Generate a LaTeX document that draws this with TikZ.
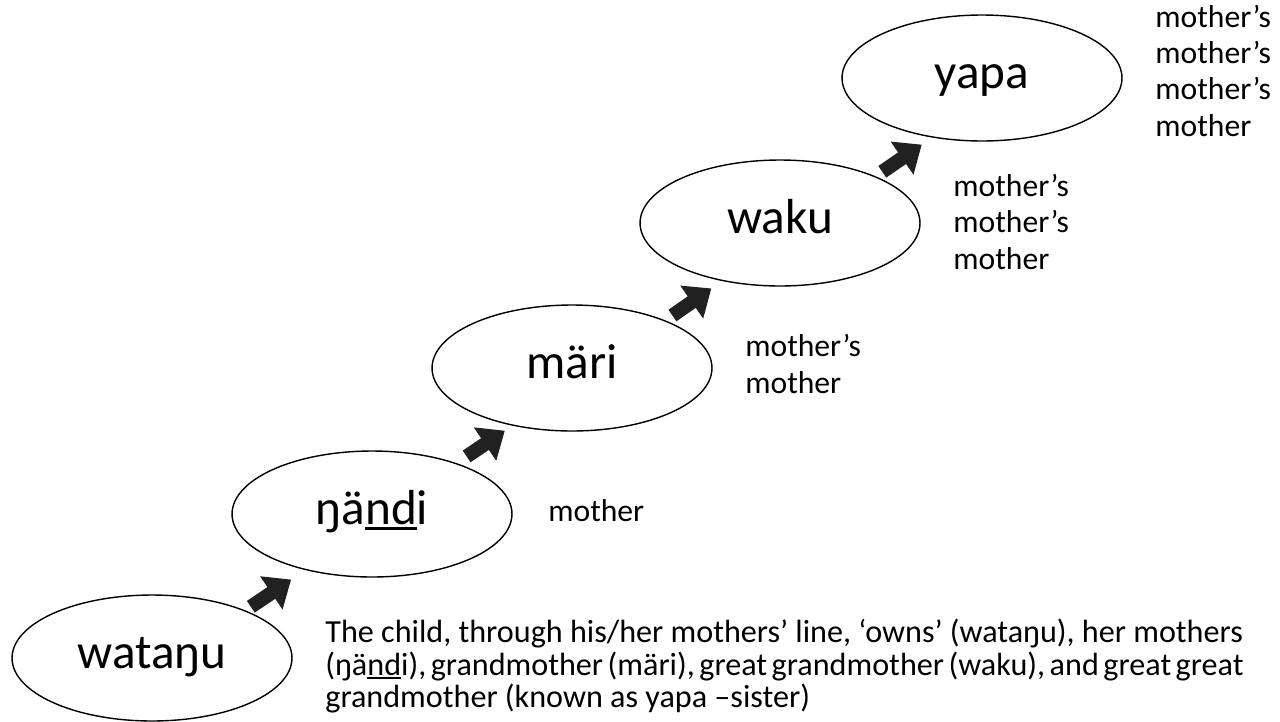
\documentclass[tikz,border=0pt]{standalone}
\usepackage{fontspec}
\setmainfont{Carlito}
\usetikzlibrary{shapes.geometric,arrows.meta}
\newcommand{\undl}[1]{\setbox0\hbox{#1}\rlap{\rule[-0.13em]{\wd0}{0.07em}}\box0}
\begin{document}
\begin{tikzpicture}[x=0.02cm,y=-0.02cm,
  gen/.style={draw,ellipse,line width=0.8pt,minimum width=5.6cm,minimum height=2.52cm,inner sep=0pt,
    text height=20pt,text depth=8.6pt,font=\fontsize{28}{32}\selectfont},
  kin/.style={anchor=base west,align=left,inner sep=0pt,font=\fontsize{18}{20.5}\selectfont},
  up/.style={draw=black!87,line width=8pt,-{Triangle[width=22pt,length=13.6pt]}}]
\useasboundingbox (0,0) rectangle (1280,721);
% the generations
\node[gen] (watangu) at (152,658) {wataŋu};
\node[gen] (nandi) at (372,514) {ŋä\undl{nd}i};
\node[gen] (mari) at (572,368) {märi};
\node[gen] (waku) at (780,223) {waku};
\node[gen] (yapa) at (982,78) {yapa};
\draw[up,shorten <=0.13cm,shorten >=0.34cm] (watangu.27) -- (nandi.220);
\draw[up,shorten <=0.24cm,shorten >=0.18cm] (nandi.31) -- (mari.224);
\draw[up,shorten <=0.17cm,shorten >=0.26cm] (mari.27) -- (waku.225);
\draw[up,shorten <=0.16cm,shorten >=0.25cm] (waku.26) -- (yapa.230);
% meanings
\node[kin] (lnandi) at (548,521) {mother};
\node[kin] (lmari) at (745,393) {mother’s\\mother};
\node[kin] (lwaku) at (953,269) {mother’s\\mother’s\\mother};
\node[kin] (lyapa) at (1155,136) {mother’s\\mother’s\\mother’s\\mother};
\node[kin,anchor=north west,font=\fontsize{18.3}{18.4}\selectfont] (note) at (325,619)
  {The child, through his/her mothers’ line, ‘owns’ (wataŋu), her mothers\\
   {\spaceskip=0.14em (ŋä\undl{nd}i), grandmother (märi), great grandmother (waku), and great great}\\
   grandmother (known as yapa –sister)};
\end{tikzpicture}
\end{document}
